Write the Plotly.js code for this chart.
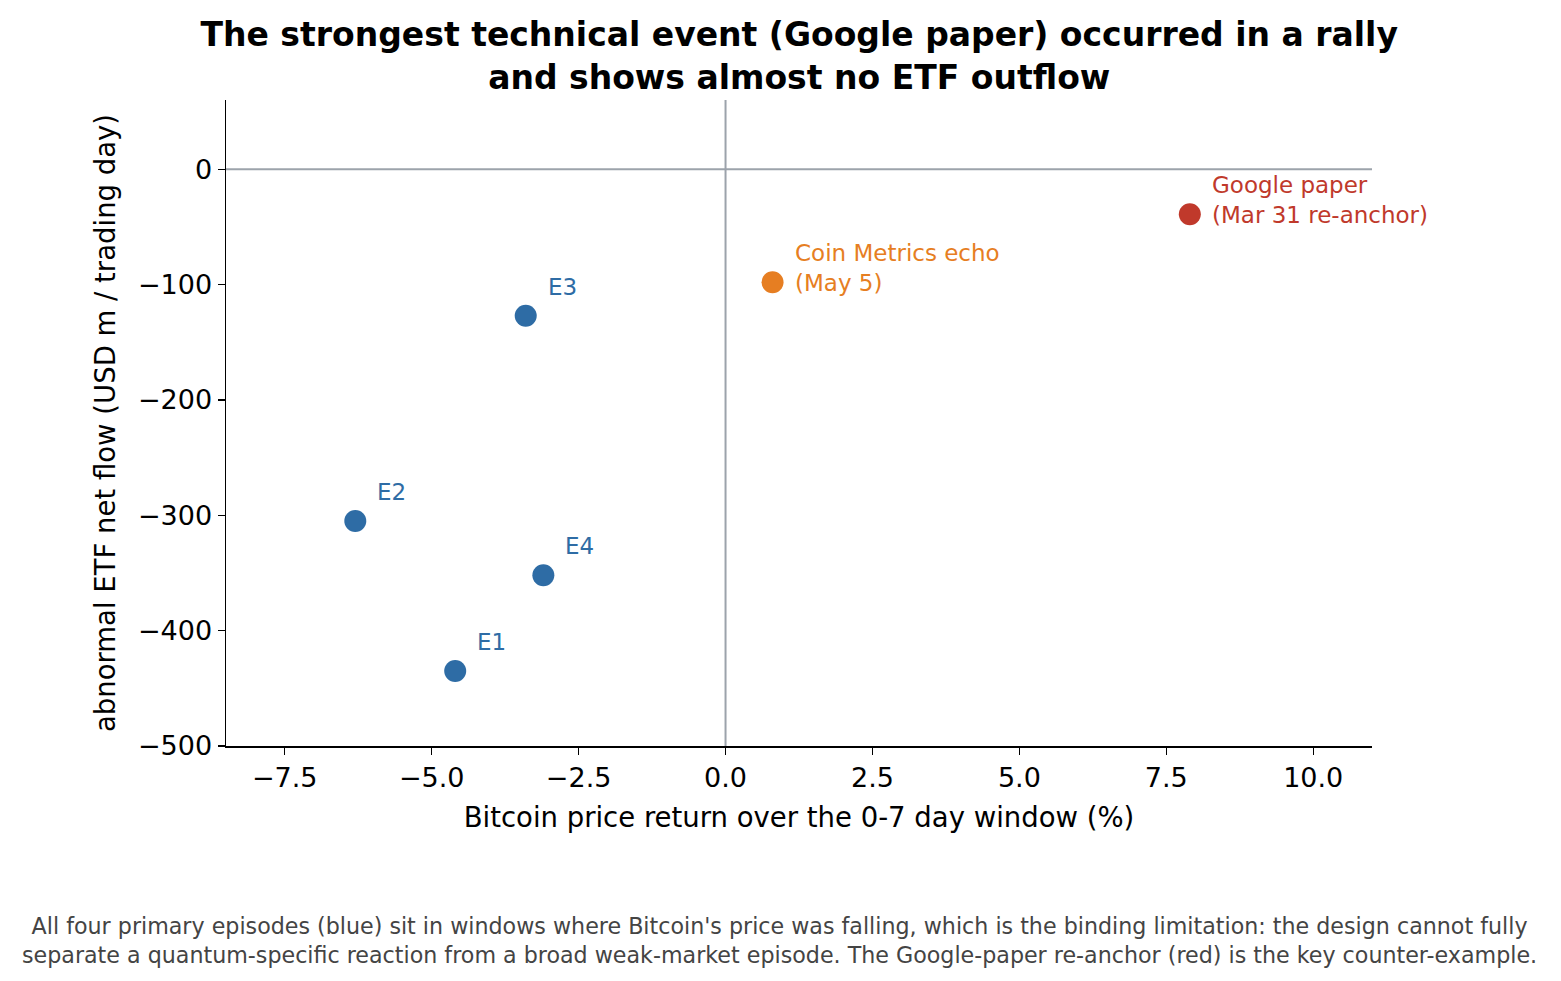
<!DOCTYPE html>
<html><head><meta charset="utf-8">
<script src="https://cdn.plot.ly/plotly-3.0.1.min.js"></script>
<style>html,body{margin:0;padding:0;background:#fff;}#c{width:1561px;height:981px;}</style>
</head><body><div id="c"></div>
<script>
const labels = ["E1","E2","E3","E4","Coin Metrics echo<br>(May 5)","Google paper<br>(Mar 31 re-anchor)"];
const returns = [-4.6, -6.3, -3.4, -3.1, 0.8, 7.9];
const flows = [-435, -305, -127, -352, -98, -39];
const colors = ["#2e6ca5","#2e6ca5","#2e6ca5","#2e6ca5","#e67e22","#c0392b"];
const xTicks = [-7.5, -5.0, -2.5, 0.0, 2.5, 5.0, 7.5, 10.0];
const xTickText = ["\u22127.5","\u22125.0","\u22122.5","0.0","2.5","5.0","7.5","10.0"];
const yTicks = [0, -100, -200, -300, -400, -500];
const yTickText = ["0","\u2212100","\u2212200","\u2212300","\u2212400","\u2212500"];

const font = "DejaVu Sans, sans-serif";
const trace = {
  x: returns, y: flows, type: "scatter", mode: "markers",
  marker: {size: 22, color: colors, line: {width: 0}},
  hoverinfo: "skip", showlegend: false
};
const annotations = labels.map((t, i) => {
  const multi = t.indexOf("<br>") >= 0;
  return {
    x: returns[i], y: flows[i], xref: "x", yref: "y", text: t, showarrow: false,
    xanchor: "left", yanchor: "middle", align: "left",
    xshift: 20, yshift: multi ? 14 : 29,
    font: {family: font, size: 23, color: colors[i]}
  };
});
annotations.push({
  xref: "paper", yref: "paper", x: 0.4834, y: -0.255, xanchor: "center", yanchor: "top",
  showarrow: false, align: "center",
  text: "All four primary episodes (blue) sit in windows where Bitcoin's price was falling, which is the binding limitation: the design cannot fully<br>separate a quantum-specific reaction from a broad weak-market episode. The Google-paper re-anchor (red) is the key counter-example.",
  font: {family: font, size: 22.2, color: "#444444"}
});

const layout = {
  width: 1561, height: 981,
  margin: {l: 226, r: 189, t: 100, b: 235},
  paper_bgcolor: "#fff", plot_bgcolor: "#fff",
  font: {family: font, color: "#000"},
  title: {text: "<b>The strongest technical event (Google paper) occurred in a rally<br>and shows almost no ETF outflow</b>",
          x: 0.512, xanchor: "center", y: 0.953, yanchor: "top",
          font: {family: font, size: 33, color: "#000"}},
  xaxis: {range: [-8.5, 11], tickvals: xTicks, ticktext: xTickText, showgrid: false, zeroline: false,
          showline: true, linecolor: "#000", linewidth: 1.5, ticks: "outside", ticklen: 7, tickwidth: 1.3, tickcolor: "#000",
          tickfont: {family: font, size: 27, color: "#000"},
          title: {text: "Bitcoin price return over the 0-7 day window (%)", font: {family: font, size: 27.5, color: "#000"}, standoff: 16}},
  yaxis: {range: [-500, 60], tickvals: yTicks, ticktext: yTickText, showgrid: false, zeroline: false,
          showline: true, linecolor: "#000", linewidth: 1.5, ticks: "outside", ticklen: 7, tickwidth: 1.3, tickcolor: "#000",
          tickfont: {family: font, size: 27, color: "#000"},
          title: {text: "abnormal ETF net flow (USD m / trading day)", font: {family: font, size: 27.5, color: "#000"}, standoff: 14}},
  shapes: [
    {type: "line", xref: "paper", x0: 0, x1: 1, yref: "y", y0: 0, y1: 0, line: {color: "#9ca3ab", width: 2}, layer: "below"},
    {type: "line", yref: "paper", y0: 0, y1: 1, xref: "x", x0: 0, x1: 0, line: {color: "#9ca3ab", width: 2}, layer: "below"}
  ],
  annotations: annotations
};
Plotly.newPlot("c", [trace], layout, {displayModeBar: false, staticPlot: true});
</script></body></html>
